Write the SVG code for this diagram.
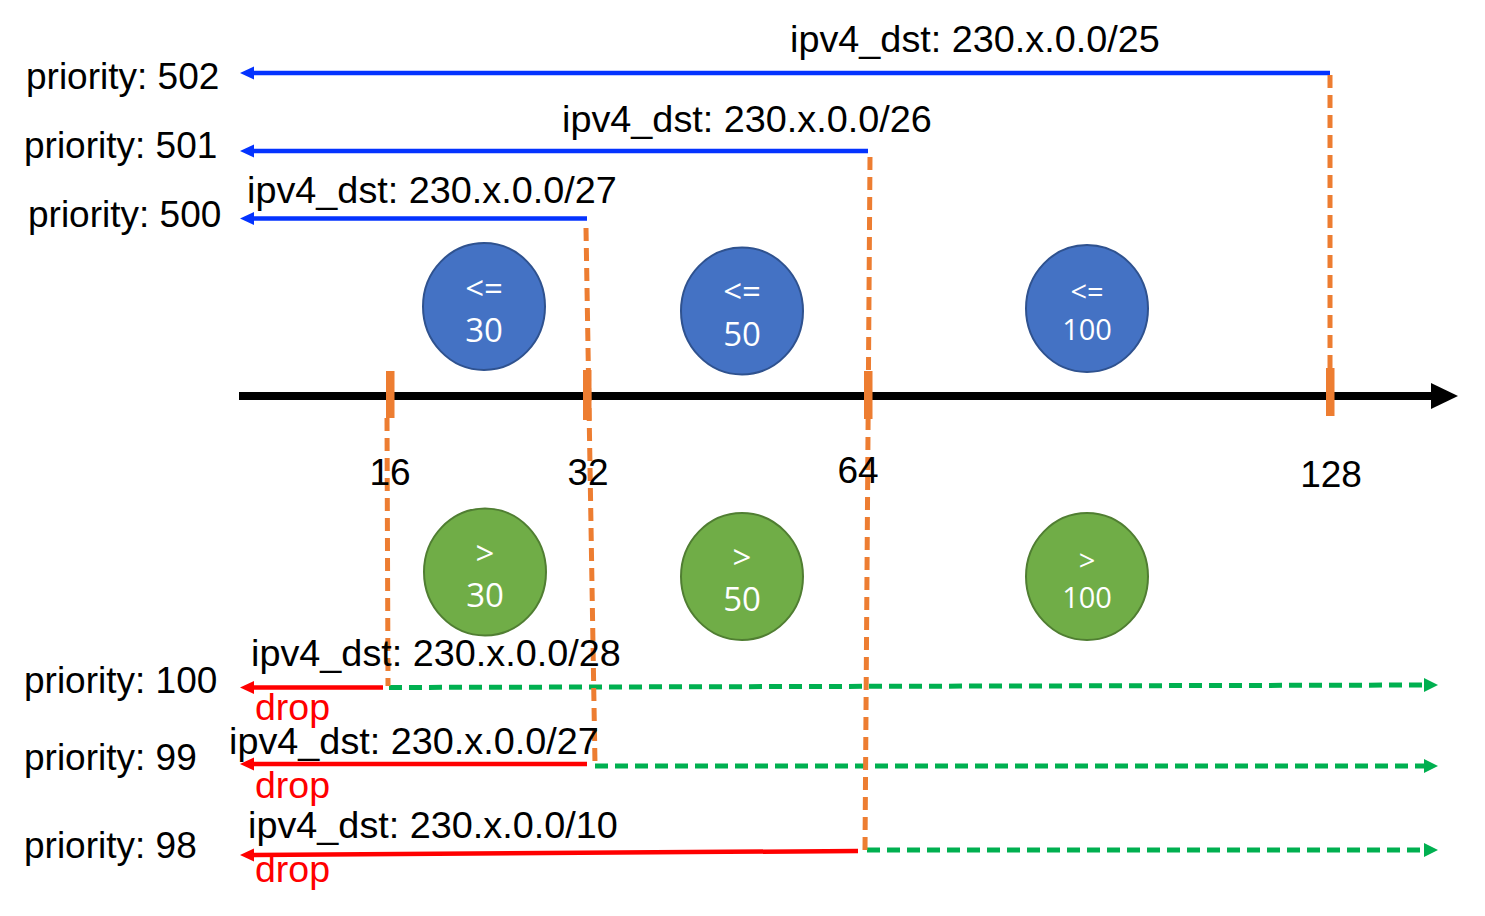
<svg xmlns="http://www.w3.org/2000/svg" width="1485" height="916" viewBox="0 0 1485 916">
<defs>
<style>
.t{font-family:"Liberation Sans",Arial,sans-serif;font-size:37px;fill:#000}
.ip{font-size:37.8px}
.d{font-family:"Liberation Sans",Arial,sans-serif;font-size:37.5px;fill:#FF0000}
.c{font-family:"Open Sans","Noto Sans",sans-serif;font-size:33px;fill:#fff;text-anchor:middle}
.cs{font-size:29px}
.mid{text-anchor:middle}
.blue{fill:#4472C4;stroke:#2F528F;stroke-width:2}
.green{fill:#70AD47;stroke:#507E32;stroke-width:2}
.bl{stroke:#0433FF;stroke-width:4.5;fill:none;marker-end:url(#ab)}
.rl{stroke:#FF0000;stroke-width:4.5;fill:none;marker-end:url(#ar)}
.gl{stroke:#00B050;stroke-width:5;fill:none;stroke-dasharray:13 7;marker-end:url(#ag)}
.ol{stroke:#ED7D31;stroke-width:5;fill:none;stroke-dasharray:13 7}
.tick{fill:#ED7D31}
</style>
<marker id="ab" markerUnits="userSpaceOnUse" viewBox="0 -8 16 16" markerWidth="16" markerHeight="16" refX="4" refY="0" orient="auto"><path d="M0,-6.5 L14,0 L0,6.5 z" fill="#0433FF"/></marker>
<marker id="ar" markerUnits="userSpaceOnUse" viewBox="0 -8 16 16" markerWidth="16" markerHeight="16" refX="4" refY="0" orient="auto"><path d="M0,-6.5 L14,0 L0,6.5 z" fill="#FF0000"/></marker>
<marker id="ag" markerUnits="userSpaceOnUse" viewBox="0 -8 16 16" markerWidth="16" markerHeight="16" refX="4" refY="0" orient="auto"><path d="M0,-7 L14,0 L0,7 z" fill="#00B050"/></marker>
<marker id="ak" markerUnits="userSpaceOnUse" viewBox="0 -14 28 28" markerWidth="28" markerHeight="28" refX="2" refY="0" orient="auto"><path d="M0,-13 L27,0 L0,13 z" fill="#000"/></marker>
</defs>
<rect width="1485" height="916" fill="#fff"/>

<g id="connectors">
  <line x1="239" y1="396" x2="1433" y2="396" stroke="#000" stroke-width="8" marker-end="url(#ak)"/>
  <line class="bl" x1="1330" y1="73" x2="250" y2="73"/>
  <line class="bl" x1="868" y1="151" x2="250" y2="151"/>
  <line class="bl" x1="587" y1="218.5" x2="250" y2="218.5"/>
  <line class="gl" x1="389" y1="687.5" x2="1428" y2="685"/>
  <line class="gl" x1="595" y1="766" x2="1428" y2="766"/>
  <line class="gl" x1="867" y1="850" x2="1428" y2="850"/>
  <line class="rl" x1="383" y1="687.5" x2="250" y2="687.5"/>
  <line class="rl" x1="587" y1="764" x2="250" y2="764"/>
  <line class="rl" x1="858" y1="851" x2="250" y2="855"/>
  <line class="ol" x1="1330" y1="75" x2="1330" y2="368"/>
  <line class="ol" x1="870" y1="157" x2="865" y2="850"/>
  <line class="ol" x1="586" y1="228" x2="595" y2="764"/>
  <line class="ol" x1="387" y1="418" x2="388" y2="686"/>
  <rect class="tick" x="386" y="371" width="8.5" height="47"/>
  <rect class="tick" x="583" y="370" width="8.5" height="50"/>
  <rect class="tick" x="864" y="371" width="8.5" height="48"/>
  <rect class="tick" x="1326" y="368" width="8.5" height="48"/>
</g>

<g id="axis-labels">
  <text class="t mid" x="390" y="485">16</text>
  <text class="t mid" x="588" y="485">32</text>
  <text class="t mid" x="858" y="483">64</text>
  <text class="t mid" x="1331" y="487">128</text>
</g>

<g id="rule-502">
  <text class="t" x="26" y="89">priority: 502</text>
  <text class="t ip" x="790" y="52">ipv4_dst: 230.x.0.0/25</text>
</g>
<g id="rule-501">
  <text class="t" x="24" y="158">priority: 501</text>
  <text class="t ip" x="562" y="132">ipv4_dst: 230.x.0.0/26</text>
</g>
<g id="rule-500">
  <text class="t" x="28" y="227">priority: 500</text>
  <text class="t ip" x="247" y="203">ipv4_dst: 230.x.0.0/27</text>
</g>
<g id="rule-100">
  <text class="t" x="24" y="693">priority: 100</text>
  <text class="t ip" x="251" y="666">ipv4_dst: 230.x.0.0/28</text>
  <text class="d" x="255" y="720">drop</text>
</g>
<g id="rule-99">
  <text class="t" x="24" y="770">priority: 99</text>
  <text class="t ip" x="229" y="754">ipv4_dst: 230.x.0.0/27</text>
  <text class="d" x="255" y="798">drop</text>
</g>
<g id="rule-98">
  <text class="t" x="24" y="858">priority: 98</text>
  <text class="t ip" x="248" y="838">ipv4_dst: 230.x.0.0/10</text>
  <text class="d" x="255" y="882">drop</text>
</g>

<g id="le30">
  <ellipse class="blue" cx="484" cy="306.5" rx="61" ry="63.5"/>
  <text class="c" x="484" y="300">&lt;=</text>
  <text class="c" x="484" y="342">30</text>
</g>
<g id="le50">
  <ellipse class="blue" cx="742" cy="311" rx="61" ry="63.5"/>
  <text class="c" x="742" y="303">&lt;=</text>
  <text class="c" x="742" y="346">50</text>
</g>
<g id="le100">
  <ellipse class="blue" cx="1087" cy="308.5" rx="61" ry="63.5"/>
  <text class="c cs" x="1087" y="302">&lt;=</text>
  <text class="c cs" x="1087" y="340">100</text>
</g>
<g id="gt30">
  <ellipse class="green" cx="485" cy="572" rx="61" ry="63.5"/>
  <text class="c" x="485" y="565">&gt;</text>
  <text class="c" x="485" y="607">30</text>
</g>
<g id="gt50">
  <ellipse class="green" cx="742" cy="576.5" rx="61" ry="63.5"/>
  <text class="c" x="742" y="569">&gt;</text>
  <text class="c" x="742" y="611">50</text>
</g>
<g id="gt100">
  <ellipse class="green" cx="1087" cy="576.5" rx="61" ry="63.5"/>
  <text class="c cs" x="1087" y="571">&gt;</text>
  <text class="c cs" x="1087" y="608">100</text>
</g>
</svg>
